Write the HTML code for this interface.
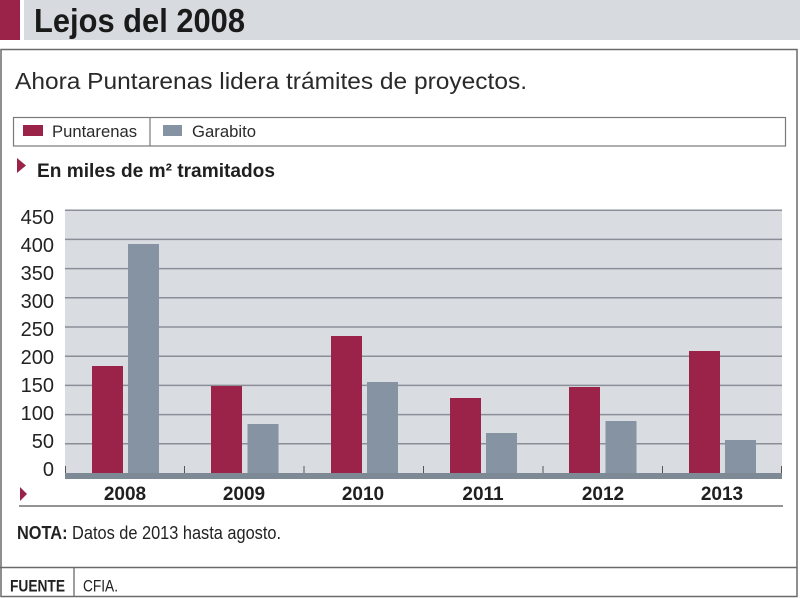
<!DOCTYPE html>
<html><head><meta charset="utf-8"><style>
html,body{margin:0;padding:0;background:#fff;}
svg{display:block;}
text{font-family:"Liberation Sans",sans-serif;}
</style></head><body>
<svg width="800" height="598" viewBox="0 0 800 598" xmlns="http://www.w3.org/2000/svg">
<rect x="0" y="0" width="800" height="598" fill="#fff"/>
<!-- title bar -->
<rect x="0" y="0" width="20" height="40" fill="#9b2249"/>
<rect x="24" y="0" width="776" height="40" fill="#d7dadf"/>
<text x="34" y="32" font-size="33" font-weight="bold" fill="#1a1a1a" textLength="211" lengthAdjust="spacingAndGlyphs">Lejos del 2008</text>
<!-- main box -->
<rect x="1" y="49.5" width="796" height="547" fill="none" stroke="#6a6a6a" stroke-width="1.5"/>
<line x1="0" y1="567.5" x2="797" y2="567.5" stroke="#6a6a6a" stroke-width="1.5"/>
<text x="15" y="89" font-size="23" fill="#2a2a2a" textLength="512" lengthAdjust="spacingAndGlyphs">Ahora Puntarenas lidera trámites de proyectos.</text>
<!-- legend -->
<rect x="13.5" y="117.5" width="772" height="28.5" fill="#fff" stroke="#7a7a7a" stroke-width="1.2"/>
<line x1="150" y1="117.5" x2="150" y2="146" stroke="#7a7a7a" stroke-width="1.2"/>
<rect x="23" y="125" width="20" height="11" fill="#9b2249"/>
<text x="52" y="137" font-size="17" fill="#2a2a2a" textLength="85" lengthAdjust="spacingAndGlyphs">Puntarenas</text>
<rect x="163" y="125" width="19" height="11" fill="#8593a2"/>
<text x="192" y="137" font-size="17" fill="#2a2a2a" textLength="64" lengthAdjust="spacingAndGlyphs">Garabito</text>
<!-- unit label -->
<polygon points="17,158 26,165.5 17,173" fill="#9b2249"/>
<text x="37" y="177" font-size="19.5" font-weight="bold" fill="#1f1f1f" textLength="238" lengthAdjust="spacingAndGlyphs">En miles de m² tramitados</text>
<!-- plot area -->
<rect x="65" y="210" width="717" height="263" fill="#d9dce1"/>
<g stroke="#8a8f97" stroke-width="1.5">
<line x1="65" y1="210.2" x2="782" y2="210.2"/>
<line x1="65" y1="239.4" x2="782" y2="239.4"/>
<line x1="65" y1="268.6" x2="782" y2="268.6"/>
<line x1="65" y1="297.8" x2="782" y2="297.8"/>
<line x1="65" y1="327" x2="782" y2="327"/>
<line x1="65" y1="356.2" x2="782" y2="356.2"/>
<line x1="65" y1="385.4" x2="782" y2="385.4"/>
<line x1="65" y1="414.6" x2="782" y2="414.6"/>
<line x1="65" y1="443.8" x2="782" y2="443.8"/>
</g>
<!-- y labels -->
<g font-size="20" fill="#222" text-anchor="end">
<text x="54" y="476">0</text>
<text x="54" y="448">50</text>
<text x="54" y="420">100</text>
<text x="54" y="392">150</text>
<text x="54" y="364">200</text>
<text x="54" y="336">250</text>
<text x="54" y="308">300</text>
<text x="54" y="280">350</text>
<text x="54" y="252">400</text>
<text x="54" y="224">450</text>
</g>
<!-- bars -->
<g fill="#9b2249">
<rect x="92" y="366" width="31" height="107"/>
<rect x="211" y="386" width="31" height="87"/>
<rect x="331" y="336" width="31" height="137"/>
<rect x="450" y="398" width="31" height="75"/>
<rect x="569" y="387" width="31" height="86"/>
<rect x="689" y="351" width="31" height="122"/>
</g>
<g fill="#8593a2">
<rect x="128" y="244" width="31" height="229"/>
<rect x="247.5" y="424" width="31" height="49"/>
<rect x="367" y="382" width="31" height="91"/>
<rect x="486" y="433" width="31" height="40"/>
<rect x="605.5" y="421" width="31" height="52"/>
<rect x="725" y="440" width="31" height="33"/>
</g>
<!-- axis -->
<rect x="65" y="473" width="717" height="6" fill="#7d8994"/>
<g stroke="#555" stroke-width="1">
<line x1="65.5" y1="466" x2="65.5" y2="473"/>
<line x1="184.5" y1="466" x2="184.5" y2="473"/>
<line x1="304" y1="466" x2="304" y2="473"/>
<line x1="423.5" y1="466" x2="423.5" y2="473"/>
<line x1="543" y1="466" x2="543" y2="473"/>
<line x1="662.5" y1="466" x2="662.5" y2="473"/>
<line x1="781.5" y1="466" x2="781.5" y2="473"/>
</g>
<g font-size="19" font-weight="bold" fill="#1f1f1f" text-anchor="middle">
<text x="125" y="500">2008</text>
<text x="244" y="500">2009</text>
<text x="363" y="500">2010</text>
<text x="483" y="500">2011</text>
<text x="603" y="500">2012</text>
<text x="722" y="500">2013</text>
</g>
<polygon points="20,487 27,494 20,501" fill="#9b2249"/>
<line x1="19" y1="506" x2="783" y2="506" stroke="#555" stroke-width="1.3"/>
<!-- nota -->
<text x="17" y="539" font-size="18" fill="#222" textLength="264" lengthAdjust="spacingAndGlyphs"><tspan font-weight="bold">NOTA:</tspan> Datos de 2013 hasta agosto.</text>
<!-- footer -->
<line x1="74" y1="567.5" x2="74" y2="597" stroke="#6a6a6a" stroke-width="1.3"/>
<text x="10" y="591.5" font-size="17" font-weight="bold" fill="#222" textLength="55" lengthAdjust="spacingAndGlyphs">FUENTE</text>
<text x="83" y="591.5" font-size="17" fill="#222" textLength="35" lengthAdjust="spacingAndGlyphs">CFIA.</text>
</svg>
</body></html>
